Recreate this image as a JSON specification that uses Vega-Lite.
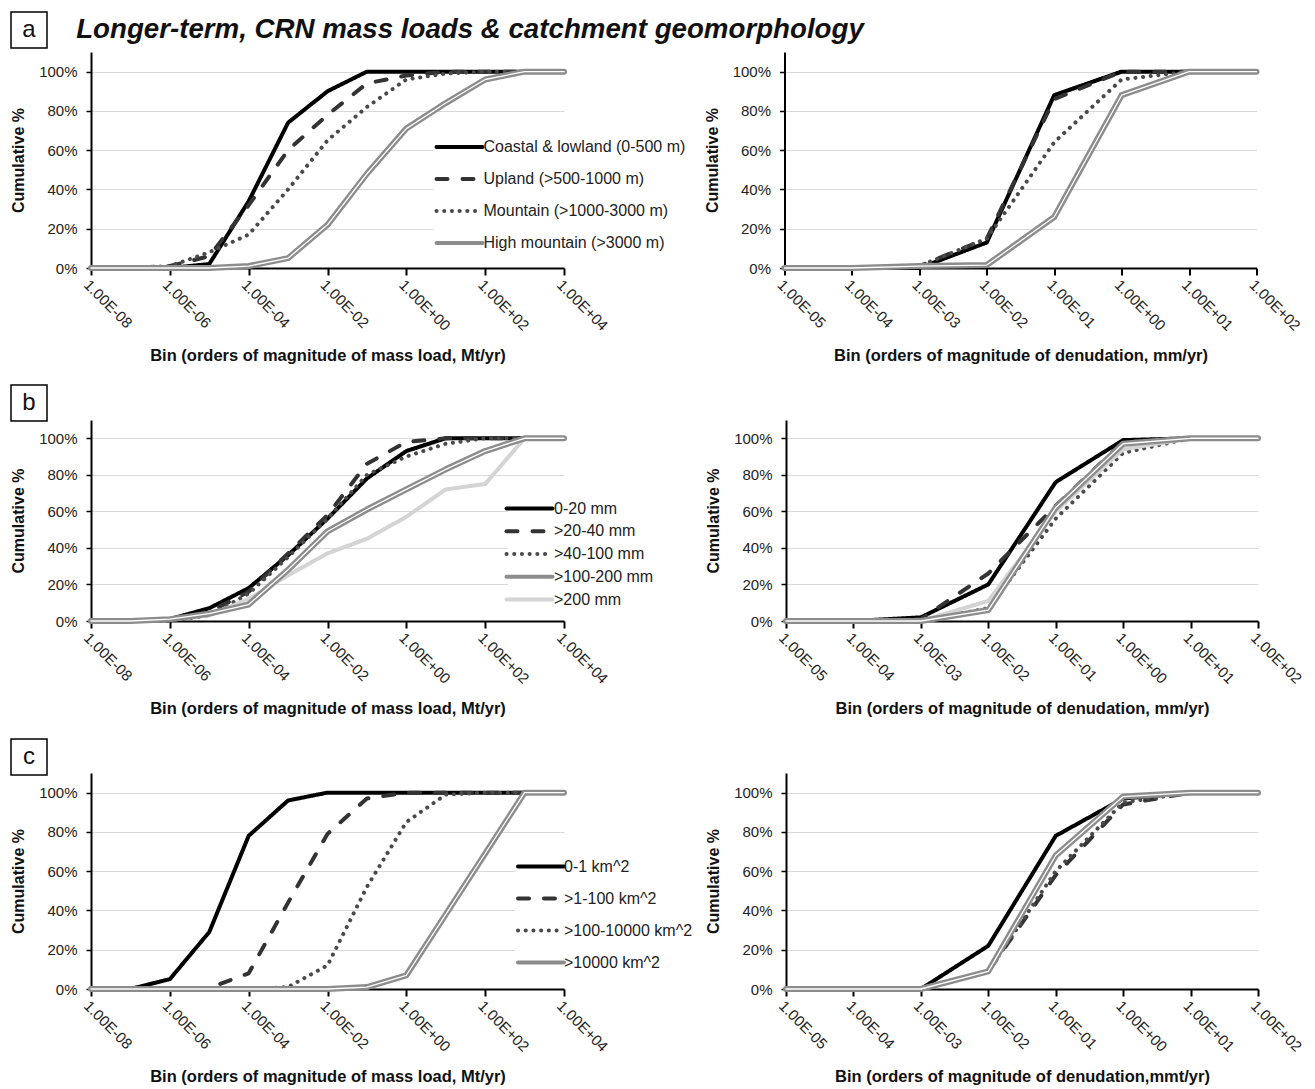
{
"$schema": "https://vega.github.io/schema/vega-lite/v6.json",
"background": "white",
"padding": {"left": 10, "top": 11, "right": 6, "bottom": 0},
"config": {
  "font": "Liberation Sans",
  "view": {"stroke": null},
  "axisX": {"grid": false, "domainColor": "black", "domainWidth": 2, "tickColor": "black", "tickWidth": 2, "tickSize": 7, "labelFontSize": 15, "labelColor": "#222", "titleFontSize": 16.5, "titleFontWeight": "bold", "titleColor": "#111", "labelAngle": 45, "labelOverlap": false, "labelBound": false, "labelFlush": false, "titlePadding": 14,
    "labelExpr": "'1.00E' + (datum.value < 0 ? '-' : '+') + (abs(datum.value) < 10 ? '0' : '') + abs(datum.value)"},
  "axisY": {"grid": true, "gridColor": "#d9d9d9", "gridWidth": 1, "domainColor": "black", "domainWidth": 2, "tickColor": "black", "tickWidth": 1.5, "tickSize": 5, "labelPadding": 9, "labelFontSize": 15, "labelColor": "#222", "titleFontSize": 16, "titleFontWeight": "bold", "titleColor": "#111", "titlePadding": 12, "format": ".0%", "values": [0, 0.2, 0.4, 0.6, 0.8, 1]}
},
"datasets": {
"aL": [
{"s":"Coastal & lowland (0-500  m)","e":-8,"p":0},{"s":"Coastal & lowland (0-500  m)","e":-7,"p":0},{"s":"Coastal & lowland (0-500  m)","e":-6,"p":0},{"s":"Coastal & lowland (0-500  m)","e":-5,"p":0.02},{"s":"Coastal & lowland (0-500  m)","e":-4,"p":0.34},{"s":"Coastal & lowland (0-500  m)","e":-3,"p":0.74},{"s":"Coastal & lowland (0-500  m)","e":-2,"p":0.9},{"s":"Coastal & lowland (0-500  m)","e":-1,"p":1},{"s":"Coastal & lowland (0-500  m)","e":0,"p":1},{"s":"Coastal & lowland (0-500  m)","e":1,"p":1},{"s":"Coastal & lowland (0-500  m)","e":2,"p":1},{"s":"Coastal & lowland (0-500  m)","e":3,"p":1},{"s":"Coastal & lowland (0-500  m)","e":4,"p":1},
{"s":"Upland (>500-1000 m)","e":-8,"p":0},{"s":"Upland (>500-1000 m)","e":-7,"p":0},{"s":"Upland (>500-1000 m)","e":-6,"p":0.01},{"s":"Upland (>500-1000 m)","e":-5,"p":0.06},{"s":"Upland (>500-1000 m)","e":-4,"p":0.32},{"s":"Upland (>500-1000 m)","e":-3,"p":0.6},{"s":"Upland (>500-1000 m)","e":-2,"p":0.78},{"s":"Upland (>500-1000 m)","e":-1,"p":0.94},{"s":"Upland (>500-1000 m)","e":0,"p":0.98},{"s":"Upland (>500-1000 m)","e":1,"p":1},{"s":"Upland (>500-1000 m)","e":2,"p":1},{"s":"Upland (>500-1000 m)","e":3,"p":1},{"s":"Upland (>500-1000 m)","e":4,"p":1},
{"s":"Mountain (>1000-3000 m)","e":-8,"p":0},{"s":"Mountain (>1000-3000 m)","e":-7,"p":0},{"s":"Mountain (>1000-3000 m)","e":-6,"p":0.01},{"s":"Mountain (>1000-3000 m)","e":-5,"p":0.08},{"s":"Mountain (>1000-3000 m)","e":-4,"p":0.17},{"s":"Mountain (>1000-3000 m)","e":-3,"p":0.4},{"s":"Mountain (>1000-3000 m)","e":-2,"p":0.65},{"s":"Mountain (>1000-3000 m)","e":-1,"p":0.82},{"s":"Mountain (>1000-3000 m)","e":0,"p":0.96},{"s":"Mountain (>1000-3000 m)","e":1,"p":0.99},{"s":"Mountain (>1000-3000 m)","e":2,"p":1},{"s":"Mountain (>1000-3000 m)","e":3,"p":1},{"s":"Mountain (>1000-3000 m)","e":4,"p":1},
{"s":"High mountain (>3000  m)","e":-8,"p":0},{"s":"High mountain (>3000  m)","e":-7,"p":0},{"s":"High mountain (>3000  m)","e":-6,"p":0},{"s":"High mountain (>3000  m)","e":-5,"p":0},{"s":"High mountain (>3000  m)","e":-4,"p":0.01},{"s":"High mountain (>3000  m)","e":-3,"p":0.05},{"s":"High mountain (>3000  m)","e":-2,"p":0.22},{"s":"High mountain (>3000  m)","e":-1,"p":0.48},{"s":"High mountain (>3000  m)","e":0,"p":0.71},{"s":"High mountain (>3000  m)","e":1,"p":0.84},{"s":"High mountain (>3000  m)","e":2,"p":0.96},{"s":"High mountain (>3000  m)","e":3,"p":1},{"s":"High mountain (>3000  m)","e":4,"p":1}
],
"aR": [
{"s":"Coastal & lowland (0-500  m)","e":-5,"p":0},{"s":"Coastal & lowland (0-500  m)","e":-4,"p":0},{"s":"Coastal & lowland (0-500  m)","e":-3,"p":0},{"s":"Coastal & lowland (0-500  m)","e":-2,"p":0.13},{"s":"Coastal & lowland (0-500  m)","e":-1,"p":0.88},{"s":"Coastal & lowland (0-500  m)","e":0,"p":1},{"s":"Coastal & lowland (0-500  m)","e":1,"p":1},{"s":"Coastal & lowland (0-500  m)","e":2,"p":1},
{"s":"Upland (>500-1000 m)","e":-5,"p":0},{"s":"Upland (>500-1000 m)","e":-4,"p":0},{"s":"Upland (>500-1000 m)","e":-3,"p":0.01},{"s":"Upland (>500-1000 m)","e":-2,"p":0.15},{"s":"Upland (>500-1000 m)","e":-1,"p":0.86},{"s":"Upland (>500-1000 m)","e":0,"p":1},{"s":"Upland (>500-1000 m)","e":1,"p":1},{"s":"Upland (>500-1000 m)","e":2,"p":1},
{"s":"Mountain (>1000-3000 m)","e":-5,"p":0},{"s":"Mountain (>1000-3000 m)","e":-4,"p":0},{"s":"Mountain (>1000-3000 m)","e":-3,"p":0.01},{"s":"Mountain (>1000-3000 m)","e":-2,"p":0.15},{"s":"Mountain (>1000-3000 m)","e":-1,"p":0.64},{"s":"Mountain (>1000-3000 m)","e":0,"p":0.96},{"s":"Mountain (>1000-3000 m)","e":1,"p":1},{"s":"Mountain (>1000-3000 m)","e":2,"p":1},
{"s":"High mountain (>3000  m)","e":-5,"p":0},{"s":"High mountain (>3000  m)","e":-4,"p":0},{"s":"High mountain (>3000  m)","e":-3,"p":0.01},{"s":"High mountain (>3000  m)","e":-2,"p":0.015},{"s":"High mountain (>3000  m)","e":-1,"p":0.26},{"s":"High mountain (>3000  m)","e":0,"p":0.88},{"s":"High mountain (>3000  m)","e":1,"p":1},{"s":"High mountain (>3000  m)","e":2,"p":1}
],
"bL": [
{"s":"0-20 mm","e":-8,"p":0},{"s":"0-20 mm","e":-7,"p":0},{"s":"0-20 mm","e":-6,"p":0.01},{"s":"0-20 mm","e":-5,"p":0.07},{"s":"0-20 mm","e":-4,"p":0.18},{"s":"0-20 mm","e":-3,"p":0.36},{"s":"0-20 mm","e":-2,"p":0.56},{"s":"0-20 mm","e":-1,"p":0.78},{"s":"0-20 mm","e":0,"p":0.93},{"s":"0-20 mm","e":1,"p":1},{"s":"0-20 mm","e":2,"p":1},{"s":"0-20 mm","e":3,"p":1},{"s":"0-20 mm","e":4,"p":1},
{"s":">20-40 mm","e":-8,"p":0},{"s":">20-40 mm","e":-7,"p":0},{"s":">20-40 mm","e":-6,"p":0.01},{"s":">20-40 mm","e":-5,"p":0.05},{"s":">20-40 mm","e":-4,"p":0.16},{"s":">20-40 mm","e":-3,"p":0.37},{"s":">20-40 mm","e":-2,"p":0.58},{"s":">20-40 mm","e":-1,"p":0.86},{"s":">20-40 mm","e":0,"p":0.98},{"s":">20-40 mm","e":1,"p":1},{"s":">20-40 mm","e":2,"p":1},{"s":">20-40 mm","e":3,"p":1},{"s":">20-40 mm","e":4,"p":1},
{"s":">40-100 mm","e":-8,"p":0},{"s":">40-100 mm","e":-7,"p":0},{"s":">40-100 mm","e":-6,"p":0},{"s":">40-100 mm","e":-5,"p":0.03},{"s":">40-100 mm","e":-4,"p":0.15},{"s":">40-100 mm","e":-3,"p":0.35},{"s":">40-100 mm","e":-2,"p":0.56},{"s":">40-100 mm","e":-1,"p":0.8},{"s":">40-100 mm","e":0,"p":0.9},{"s":">40-100 mm","e":1,"p":0.97},{"s":">40-100 mm","e":2,"p":1},{"s":">40-100 mm","e":3,"p":1},{"s":">40-100 mm","e":4,"p":1},
{"s":">100-200 mm","e":-8,"p":0},{"s":">100-200 mm","e":-7,"p":0},{"s":">100-200 mm","e":-6,"p":0.01},{"s":">100-200 mm","e":-5,"p":0.04},{"s":">100-200 mm","e":-4,"p":0.09},{"s":">100-200 mm","e":-3,"p":0.28},{"s":">100-200 mm","e":-2,"p":0.49},{"s":">100-200 mm","e":-1,"p":0.61},{"s":">100-200 mm","e":0,"p":0.72},{"s":">100-200 mm","e":1,"p":0.83},{"s":">100-200 mm","e":2,"p":0.93},{"s":">100-200 mm","e":3,"p":1},{"s":">100-200 mm","e":4,"p":1},
{"s":">200 mm","e":-8,"p":0},{"s":">200 mm","e":-7,"p":0},{"s":">200 mm","e":-6,"p":0.01},{"s":">200 mm","e":-5,"p":0.03},{"s":">200 mm","e":-4,"p":0.12},{"s":">200 mm","e":-3,"p":0.25},{"s":">200 mm","e":-2,"p":0.37},{"s":">200 mm","e":-1,"p":0.45},{"s":">200 mm","e":0,"p":0.57},{"s":">200 mm","e":1,"p":0.72},{"s":">200 mm","e":2,"p":0.75},{"s":">200 mm","e":3,"p":1},{"s":">200 mm","e":4,"p":1}
],
"bR": [
{"s":"0-20 mm","e":-5,"p":0},{"s":"0-20 mm","e":-4,"p":0},{"s":"0-20 mm","e":-3,"p":0.02},{"s":"0-20 mm","e":-2,"p":0.2},{"s":"0-20 mm","e":-1,"p":0.76},{"s":"0-20 mm","e":0,"p":0.99},{"s":"0-20 mm","e":1,"p":1},{"s":"0-20 mm","e":2,"p":1},
{"s":">20-40 mm","e":-5,"p":0},{"s":">20-40 mm","e":-4,"p":0},{"s":">20-40 mm","e":-3,"p":0.01},{"s":">20-40 mm","e":-2,"p":0.26},{"s":">20-40 mm","e":-1,"p":0.63},{"s":">20-40 mm","e":0,"p":0.98},{"s":">20-40 mm","e":1,"p":1},{"s":">20-40 mm","e":2,"p":1},
{"s":">40-100 mm","e":-5,"p":0},{"s":">40-100 mm","e":-4,"p":0},{"s":">40-100 mm","e":-3,"p":0},{"s":">40-100 mm","e":-2,"p":0.07},{"s":">40-100 mm","e":-1,"p":0.56},{"s":">40-100 mm","e":0,"p":0.92},{"s":">40-100 mm","e":1,"p":1},{"s":">40-100 mm","e":2,"p":1},
{"s":">100-200 mm","e":-5,"p":0},{"s":">100-200 mm","e":-4,"p":0},{"s":">100-200 mm","e":-3,"p":0},{"s":">100-200 mm","e":-2,"p":0.06},{"s":">100-200 mm","e":-1,"p":0.62},{"s":">100-200 mm","e":0,"p":0.97},{"s":">100-200 mm","e":1,"p":1},{"s":">100-200 mm","e":2,"p":1},
{"s":">200 mm","e":-5,"p":0},{"s":">200 mm","e":-4,"p":0},{"s":">200 mm","e":-3,"p":0},{"s":">200 mm","e":-2,"p":0.11},{"s":">200 mm","e":-1,"p":0.6},{"s":">200 mm","e":0,"p":0.94},{"s":">200 mm","e":1,"p":1},{"s":">200 mm","e":2,"p":1}
],
"cL": [
{"s":"0-1 km^2","e":-8,"p":0},{"s":"0-1 km^2","e":-7,"p":0},{"s":"0-1 km^2","e":-6,"p":0.05},{"s":"0-1 km^2","e":-5,"p":0.29},{"s":"0-1 km^2","e":-4,"p":0.78},{"s":"0-1 km^2","e":-3,"p":0.96},{"s":"0-1 km^2","e":-2,"p":1},{"s":"0-1 km^2","e":-1,"p":1},{"s":"0-1 km^2","e":0,"p":1},{"s":"0-1 km^2","e":1,"p":1},{"s":"0-1 km^2","e":2,"p":1},{"s":"0-1 km^2","e":3,"p":1},{"s":"0-1 km^2","e":4,"p":1},
{"s":">1-100 km^2","e":-8,"p":0},{"s":">1-100 km^2","e":-7,"p":0},{"s":">1-100 km^2","e":-6,"p":0},{"s":">1-100 km^2","e":-5,"p":0.005},{"s":">1-100 km^2","e":-4,"p":0.08},{"s":">1-100 km^2","e":-3,"p":0.44},{"s":">1-100 km^2","e":-2,"p":0.79},{"s":">1-100 km^2","e":-1,"p":0.97},{"s":">1-100 km^2","e":0,"p":1},{"s":">1-100 km^2","e":1,"p":1},{"s":">1-100 km^2","e":2,"p":1},{"s":">1-100 km^2","e":3,"p":1},{"s":">1-100 km^2","e":4,"p":1},
{"s":">100-10000 km^2","e":-8,"p":0},{"s":">100-10000 km^2","e":-7,"p":0},{"s":">100-10000 km^2","e":-6,"p":0},{"s":">100-10000 km^2","e":-5,"p":0},{"s":">100-10000 km^2","e":-4,"p":0},{"s":">100-10000 km^2","e":-3,"p":0.01},{"s":">100-10000 km^2","e":-2,"p":0.12},{"s":">100-10000 km^2","e":-1,"p":0.52},{"s":">100-10000 km^2","e":0,"p":0.85},{"s":">100-10000 km^2","e":1,"p":0.99},{"s":">100-10000 km^2","e":2,"p":1},{"s":">100-10000 km^2","e":3,"p":1},{"s":">100-10000 km^2","e":4,"p":1},
{"s":">10000 km^2","e":-8,"p":0},{"s":">10000 km^2","e":-7,"p":0},{"s":">10000 km^2","e":-6,"p":0},{"s":">10000 km^2","e":-5,"p":0},{"s":">10000 km^2","e":-4,"p":0},{"s":">10000 km^2","e":-3,"p":0},{"s":">10000 km^2","e":-2,"p":0},{"s":">10000 km^2","e":-1,"p":0.01},{"s":">10000 km^2","e":0,"p":0.07},{"s":">10000 km^2","e":1,"p":0.38},{"s":">10000 km^2","e":2,"p":0.69},{"s":">10000 km^2","e":3,"p":1},{"s":">10000 km^2","e":4,"p":1}
],
"cR": [
{"s":"0-1 km^2","e":-5,"p":0},{"s":"0-1 km^2","e":-4,"p":0},{"s":"0-1 km^2","e":-3,"p":0},{"s":"0-1 km^2","e":-2,"p":0.22},{"s":"0-1 km^2","e":-1,"p":0.78},{"s":"0-1 km^2","e":0,"p":0.97},{"s":"0-1 km^2","e":1,"p":1},{"s":"0-1 km^2","e":2,"p":1},
{"s":">1-100 km^2","e":-5,"p":0},{"s":">1-100 km^2","e":-4,"p":0},{"s":">1-100 km^2","e":-3,"p":0},{"s":">1-100 km^2","e":-2,"p":0.09},{"s":">1-100 km^2","e":-1,"p":0.58},{"s":">1-100 km^2","e":0,"p":0.94},{"s":">1-100 km^2","e":1,"p":1},{"s":">1-100 km^2","e":2,"p":1},
{"s":">100-10000 km^2","e":-5,"p":0},{"s":">100-10000 km^2","e":-4,"p":0},{"s":">100-10000 km^2","e":-3,"p":0},{"s":">100-10000 km^2","e":-2,"p":0.09},{"s":">100-10000 km^2","e":-1,"p":0.6},{"s":">100-10000 km^2","e":0,"p":0.95},{"s":">100-10000 km^2","e":1,"p":1},{"s":">100-10000 km^2","e":2,"p":1},
{"s":">10000 km^2","e":-5,"p":0},{"s":">10000 km^2","e":-4,"p":0},{"s":">10000 km^2","e":-3,"p":0},{"s":">10000 km^2","e":-2,"p":0.09},{"s":">10000 km^2","e":-1,"p":0.68},{"s":">10000 km^2","e":0,"p":0.98},{"s":">10000 km^2","e":1,"p":1},{"s":">10000 km^2","e":2,"p":1}
]
},
"resolve": {"scale": {"color": "independent", "strokeDash": "independent"}},
"spacing": -38,
"hconcat": [
{
 "spacing": 0,
 "vconcat": [
  {"width": 36, "height": 36, "data": {"values": [{"t": "a"}]}, "view": {"stroke": "black", "strokeWidth": 1.5},
   "mark": {"type": "text", "fontSize": 24, "color": "#111", "align": "center", "baseline": "middle"},
   "encoding": {"text": {"field": "t"}}},
  {"width": 36, "height": 335, "data": {"values": [{"t": ""}]}, "mark": {"type": "text"}, "encoding": {"text": {"field": "t"}}},
  {"width": 36, "height": 36, "data": {"values": [{"t": "b"}]}, "view": {"stroke": "black", "strokeWidth": 1.5},
   "mark": {"type": "text", "fontSize": 24, "color": "#111", "align": "center", "baseline": "middle"},
   "encoding": {"text": {"field": "t"}}},
  {"width": 36, "height": 316, "data": {"values": [{"t": ""}]}, "mark": {"type": "text"}, "encoding": {"text": {"field": "t"}}},
  {"width": 36, "height": 36, "data": {"values": [{"t": "c"}]}, "view": {"stroke": "black", "strokeWidth": 1.5},
   "mark": {"type": "text", "fontSize": 24, "color": "#111", "align": "center", "baseline": "middle"},
   "encoding": {"text": {"field": "t"}}}
 ]
},
{
 "resolve": {"scale": {"color": "independent", "strokeDash": "independent"}},
 "spacing": 56,
 "vconcat": [
 {
  "resolve": {"scale": {"color": "independent", "strokeDash": "independent"}},
  "spacing": 4,
  "vconcat": [
   {"width": 758, "height": 36, "data": {"values": [{"t": "Longer-term, CRN mass loads & catchment geomorphology"}]},
    "mark": {"type": "text", "fontSize": 27.7, "fontStyle": "italic", "fontWeight": "bold", "color": "#111", "align": "center", "baseline": "middle"},
    "encoding": {"text": {"field": "t"}}},
   {"resolve": {"scale": {"color": "independent", "strokeDash": "independent"}},
    "spacing": 4.5,
    "hconcat": [
     {"width": 473, "height": 216, "data": {"name": "aL"},
      "encoding": {"x": {"field": "e", "type": "quantitative", "scale": {"domain": [-8, 4], "nice": false, "zero": false}, "axis": {"values": [-8, -6, -4, -2, 0, 2, 4], "title": "Bin (orders  of magnitude of mass load, Mt/yr)"}},
                   "y": {"field": "p", "type": "quantitative", "title": "Cumulative %", "scale": {"domain": [0, 1.1], "nice": false}}},
      "layer": [
       {"transform": [{"filter": "datum.s !== 'High mountain (>3000  m)'"}],
        "mark": {"type": "line", "strokeWidth": 4, "strokeCap": "round", "strokeJoin": "round"},
        "encoding": {
         "color": {"field": "s", "type": "nominal", "scale": {"domain": ["Coastal & lowland (0-500  m)", "Upland (>500-1000 m)", "Mountain (>1000-3000 m)", "High mountain (>3000  m)"], "range": ["#000000", "#333333", "#4a4a4a", "#8c8c8c"]},
           "legend": {"orient": "none", "legendX": 342.5, "legendY": 69, "title": null, "symbolType": "M-1.4375,0H1.4375", "symbolSize": 1024, "symbolStrokeWidth": 4, "labelFontSize": 16, "labelColor": "#222", "labelOffset": 6, "labelLimit": 400, "rowPadding": 6, "padding": 8, "fillColor": "white", "symbolOffset": 0, "encode": {"symbols": {"update": {"strokeCap": {"value": "round"}}}}}},
         "strokeDash": {"field": "s", "type": "nominal", "scale": {"domain": ["Coastal & lowland (0-500  m)", "Upland (>500-1000 m)", "Mountain (>1000-3000 m)", "High mountain (>3000  m)"], "range": [[1, 0], [11, 15], [0.1, 7.6], [1, 0]]},
           "legend": {"orient": "none", "legendX": 342.5, "legendY": 69, "title": null, "symbolType": "M-1.4375,0H1.4375", "symbolSize": 1024, "symbolStrokeWidth": 4, "labelFontSize": 16, "labelColor": "#222", "labelOffset": 6, "labelLimit": 400, "rowPadding": 6, "padding": 8, "fillColor": "white", "symbolOffset": 0, "encode": {"symbols": {"update": {"strokeCap": {"value": "round"}}}}}}
        }},
       {"transform": [{"filter": "datum.s === 'High mountain (>3000  m)'"}],
        "mark": {"type": "line", "strokeWidth": 6, "color": "#8c8c8c", "strokeCap": "round", "strokeJoin": "round"}, "encoding": {}},
       {"transform": [{"filter": "datum.s === 'High mountain (>3000  m)'"}],
        "mark": {"type": "line", "strokeWidth": 1.3, "color": "white", "strokeCap": "round", "strokeJoin": "round"}, "encoding": {}}
      ]},
     {"width": 472, "height": 216, "data": {"name": "aR"},
      "encoding": {"x": {"field": "e", "type": "quantitative", "scale": {"domain": [-5, 2], "nice": false, "zero": false}, "axis": {"values": [-5, -4, -3, -2, -1, 0, 1, 2], "title": "Bin (orders  of magnitude of denudation, mm/yr)"}},
                   "y": {"field": "p", "type": "quantitative", "title": "Cumulative %", "scale": {"domain": [0, 1.1], "nice": false}}},
      "layer": [
       {"transform": [{"filter": "datum.s !== 'High mountain (>3000  m)'"}],
        "mark": {"type": "line", "strokeWidth": 4, "strokeCap": "round", "strokeJoin": "round"},
        "encoding": {
         "color": {"field": "s", "type": "nominal", "scale": {"domain": ["Coastal & lowland (0-500  m)", "Upland (>500-1000 m)", "Mountain (>1000-3000 m)", "High mountain (>3000  m)"], "range": ["#000000", "#333333", "#4a4a4a", "#8c8c8c"]}, "legend": null},
         "strokeDash": {"field": "s", "type": "nominal", "scale": {"domain": ["Coastal & lowland (0-500  m)", "Upland (>500-1000 m)", "Mountain (>1000-3000 m)", "High mountain (>3000  m)"], "range": [[1, 0], [11, 15], [0.1, 7.6], [1, 0]]}, "legend": null}
        }},
       {"transform": [{"filter": "datum.s === 'High mountain (>3000  m)'"}],
        "mark": {"type": "line", "strokeWidth": 6, "color": "#8c8c8c", "strokeCap": "round", "strokeJoin": "round"}, "encoding": {}},
       {"transform": [{"filter": "datum.s === 'High mountain (>3000  m)'"}],
        "mark": {"type": "line", "strokeWidth": 1.3, "color": "white", "strokeCap": "round", "strokeJoin": "round"}, "encoding": {}}
      ]}
    ]}
  ]
 },
 {"resolve": {"scale": {"color": "independent", "strokeDash": "independent"}},
  "spacing": 43,
  "hconcat": [
   {"width": 473, "height": 201, "data": {"name": "bL"},
    "encoding": {"x": {"field": "e", "type": "quantitative", "scale": {"domain": [-8, 4], "nice": false, "zero": false}, "axis": {"values": [-8, -6, -4, -2, 0, 2, 4], "title": "Bin (orders  of magnitude of mass load, Mt/yr)"}},
                 "y": {"field": "p", "type": "quantitative", "title": "Cumulative %", "scale": {"domain": [0, 1.1], "nice": false}}},
    "layer": [
     {"transform": [{"filter": "datum.s !== '>100-200 mm'"}],
      "mark": {"type": "line", "strokeWidth": 4, "strokeCap": "round", "strokeJoin": "round"},
      "encoding": {
       "color": {"field": "s", "type": "nominal", "scale": {"domain": ["0-20 mm", ">20-40 mm", ">40-100 mm", ">100-200 mm", ">200 mm"], "range": ["#000000", "#333333", "#4a4a4a", "#8c8c8c", "#d4d4d4"]},
         "legend": {"orient": "none", "legendX": 417, "legendY": 67, "title": null, "symbolType": "M-2,0H2", "symbolSize": 529, "symbolStrokeWidth": 4, "labelFontSize": 16, "labelColor": "#222", "labelOffset": 11, "labelLimit": 400, "rowPadding": 0.75, "padding": 8, "fillColor": "white", "symbolOffset": 0, "encode": {"symbols": {"update": {"strokeCap": {"value": "round"}}}}}},
       "strokeDash": {"field": "s", "type": "nominal", "scale": {"domain": ["0-20 mm", ">20-40 mm", ">40-100 mm", ">100-200 mm", ">200 mm"], "range": [[1, 0], [11, 15], [0.1, 7.6], [1, 0], [1, 0]]},
         "legend": {"orient": "none", "legendX": 417, "legendY": 67, "title": null, "symbolType": "M-2,0H2", "symbolSize": 529, "symbolStrokeWidth": 4, "labelFontSize": 16, "labelColor": "#222", "labelOffset": 11, "labelLimit": 400, "rowPadding": 0.75, "padding": 8, "fillColor": "white", "symbolOffset": 0, "encode": {"symbols": {"update": {"strokeCap": {"value": "round"}}}}}}
      }},
     {"transform": [{"filter": "datum.s === '>100-200 mm'"}],
      "mark": {"type": "line", "strokeWidth": 6, "color": "#8c8c8c", "strokeCap": "round", "strokeJoin": "round"}, "encoding": {}},
     {"transform": [{"filter": "datum.s === '>100-200 mm'"}],
      "mark": {"type": "line", "strokeWidth": 1.3, "color": "white", "strokeCap": "round", "strokeJoin": "round"}, "encoding": {}}
    ]},
   {"width": 472, "height": 201, "data": {"name": "bR"},
    "encoding": {"x": {"field": "e", "type": "quantitative", "scale": {"domain": [-5, 2], "nice": false, "zero": false}, "axis": {"values": [-5, -4, -3, -2, -1, 0, 1, 2], "title": "Bin (orders  of magnitude of denudation, mm/yr)"}},
                 "y": {"field": "p", "type": "quantitative", "title": "Cumulative %", "scale": {"domain": [0, 1.1], "nice": false}}},
    "layer": [
     {"transform": [{"filter": "datum.s !== '>100-200 mm'"}],
      "mark": {"type": "line", "strokeWidth": 4, "strokeCap": "round", "strokeJoin": "round"},
      "encoding": {
       "color": {"field": "s", "type": "nominal", "scale": {"domain": ["0-20 mm", ">20-40 mm", ">40-100 mm", ">100-200 mm", ">200 mm"], "range": ["#000000", "#333333", "#4a4a4a", "#8c8c8c", "#d4d4d4"]}, "legend": null},
       "strokeDash": {"field": "s", "type": "nominal", "scale": {"domain": ["0-20 mm", ">20-40 mm", ">40-100 mm", ">100-200 mm", ">200 mm"], "range": [[1, 0], [11, 15], [0.1, 7.6], [1, 0], [1, 0]]}, "legend": null}
      }},
     {"transform": [{"filter": "datum.s === '>100-200 mm'"}],
      "mark": {"type": "line", "strokeWidth": 6, "color": "#8c8c8c", "strokeCap": "round", "strokeJoin": "round"}, "encoding": {}},
     {"transform": [{"filter": "datum.s === '>100-200 mm'"}],
      "mark": {"type": "line", "strokeWidth": 1.3, "color": "white", "strokeCap": "round", "strokeJoin": "round"}, "encoding": {}}
    ]}
  ]},
 {"resolve": {"scale": {"color": "independent", "strokeDash": "independent"}},
  "spacing": 4,
  "hconcat": [
   {"width": 473, "height": 216, "data": {"name": "cL"},
    "encoding": {"x": {"field": "e", "type": "quantitative", "scale": {"domain": [-8, 4], "nice": false, "zero": false}, "axis": {"values": [-8, -6, -4, -2, 0, 2, 4], "title": "Bin (orders  of magnitude of mass load, Mt/yr)"}},
                 "y": {"field": "p", "type": "quantitative", "title": "Cumulative %", "scale": {"domain": [0, 1.1], "nice": false}}},
    "layer": [
     {"transform": [{"filter": "datum.s !== '>10000 km^2'"}],
      "mark": {"type": "line", "strokeWidth": 4, "strokeCap": "round", "strokeJoin": "round"},
      "encoding": {
       "color": {"field": "s", "type": "nominal", "scale": {"domain": ["0-1 km^2", ">1-100 km^2", ">100-10000 km^2", ">10000 km^2"], "range": ["#000000", "#333333", "#4a4a4a", "#8c8c8c"]},
         "legend": {"orient": "none", "legendX": 424, "legendY": 67.5, "title": null, "symbolType": "M-1.4375,0H1.4375", "symbolSize": 1024, "symbolStrokeWidth": 4, "labelFontSize": 16, "labelColor": "#222", "labelOffset": 5, "labelLimit": 400, "rowPadding": 6, "padding": 8, "fillColor": "white", "symbolOffset": 0, "encode": {"symbols": {"update": {"strokeCap": {"value": "round"}}}}}},
       "strokeDash": {"field": "s", "type": "nominal", "scale": {"domain": ["0-1 km^2", ">1-100 km^2", ">100-10000 km^2", ">10000 km^2"], "range": [[1, 0], [11, 15], [0.1, 7.6], [1, 0]]},
         "legend": {"orient": "none", "legendX": 424, "legendY": 67.5, "title": null, "symbolType": "M-1.4375,0H1.4375", "symbolSize": 1024, "symbolStrokeWidth": 4, "labelFontSize": 16, "labelColor": "#222", "labelOffset": 5, "labelLimit": 400, "rowPadding": 6, "padding": 8, "fillColor": "white", "symbolOffset": 0, "encode": {"symbols": {"update": {"strokeCap": {"value": "round"}}}}}}
      }},
     {"transform": [{"filter": "datum.s === '>10000 km^2'"}],
      "mark": {"type": "line", "strokeWidth": 6, "color": "#8c8c8c", "strokeCap": "round", "strokeJoin": "round"}, "encoding": {}},
     {"transform": [{"filter": "datum.s === '>10000 km^2'"}],
      "mark": {"type": "line", "strokeWidth": 1.3, "color": "white", "strokeCap": "round", "strokeJoin": "round"}, "encoding": {}}
    ]},
   {"width": 472, "height": 216, "data": {"name": "cR"},
    "encoding": {"x": {"field": "e", "type": "quantitative", "scale": {"domain": [-5, 2], "nice": false, "zero": false}, "axis": {"values": [-5, -4, -3, -2, -1, 0, 1, 2], "title": "Bin (orders  of magnitude of denudation,mmt/yr)"}},
                 "y": {"field": "p", "type": "quantitative", "title": "Cumulative %", "scale": {"domain": [0, 1.1], "nice": false}}},
    "layer": [
     {"transform": [{"filter": "datum.s !== '>10000 km^2'"}],
      "mark": {"type": "line", "strokeWidth": 4, "strokeCap": "round", "strokeJoin": "round"},
      "encoding": {
       "color": {"field": "s", "type": "nominal", "scale": {"domain": ["0-1 km^2", ">1-100 km^2", ">100-10000 km^2", ">10000 km^2"], "range": ["#000000", "#333333", "#4a4a4a", "#8c8c8c"]}, "legend": null},
       "strokeDash": {"field": "s", "type": "nominal", "scale": {"domain": ["0-1 km^2", ">1-100 km^2", ">100-10000 km^2", ">10000 km^2"], "range": [[1, 0], [11, 15], [0.1, 7.6], [1, 0]]}, "legend": null}
      }},
     {"transform": [{"filter": "datum.s === '>10000 km^2'"}],
      "mark": {"type": "line", "strokeWidth": 6, "color": "#8c8c8c", "strokeCap": "round", "strokeJoin": "round"}, "encoding": {}},
     {"transform": [{"filter": "datum.s === '>10000 km^2'"}],
      "mark": {"type": "line", "strokeWidth": 1.3, "color": "white", "strokeCap": "round", "strokeJoin": "round"}, "encoding": {}}
    ]}
  ]}
 ]
}
]
}
